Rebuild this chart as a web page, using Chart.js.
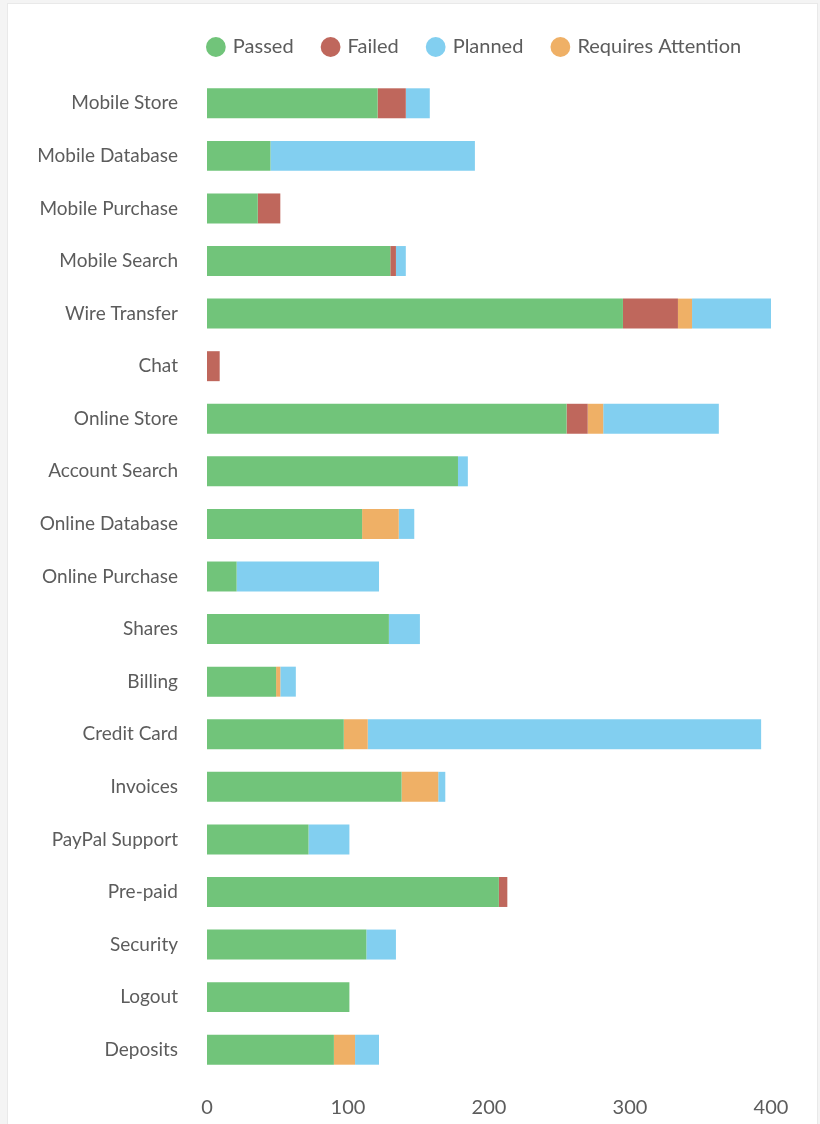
<!DOCTYPE html>
<html lang="en">
<head>
    <meta charset="UTF-8">
    <title>Test Status by Feature</title>
    <script src="https://cdn.jsdelivr.net/npm/chart.js"></script>
    <style>
        body { margin: 0; background: #f4f4f4; overflow: hidden; }
        .card {
            position: absolute; left: 7px; top: 3px;
            width: 809px; height: 1150px;
            background: #fff; border: 1px solid #e9e9e9;
        }
    </style>
</head>
<body>
    <div class="card">
        <canvas id="statusChart" width="809" height="1140"></canvas>
    </div>

    <script>
        // Features and test counts per status
        const features = ['Mobile Store', 'Mobile Database', 'Mobile Purchase', 'Mobile Search', 'Wire Transfer',
            'Chat', 'Online Store', 'Account Search', 'Online Database', 'Online Purchase', 'Shares', 'Billing',
            'Credit Card', 'Invoices', 'PayPal Support', 'Pre-paid', 'Security', 'Logout', 'Deposits'];
        const passed    = [121, 45, 36, 130, 295, 0, 255, 178, 110, 21, 129, 49, 97, 138, 72, 207, 113, 101, 90];
        const failed    = [20, 0, 16, 4, 39, 9, 15, 0, 0, 0, 0, 0, 0, 0, 0, 6, 0, 0, 0];
        const planned   = [17, 145, 0, 7, 56, 0, 82, 7, 11, 101, 22, 11, 279, 5, 29, 0, 21, 0, 17];
        const attention = [0, 0, 0, 0, 10, 0, 11, 0, 26, 0, 0, 3, 17, 26, 0, 0, 0, 0, 15];
        const xTicks = [0, 100, 200, 300, 400];

        const textColor = '#5c5c5c';
        const font = { family: 'Lato', size: 19 };

        // a bit more room under the legend, and center it over the bars (slightly left)
        const legendSpacing = {
            id: 'legendSpacing',
            beforeInit(chart) {
                const legend = chart.legend;
                if (!legend) return;
                const fit = legend.fit;
                legend.fit = function () { fit.call(this); this.height += 10; };
            },
            afterLayout(chart) {
                const legend = chart.legend;
                const area = chart.chartArea;
                const shift = (area.left + area.right) / 2 - 14 - (legend.left + legend.right) / 2;
                legend.left += shift;
                legend.right += shift;
            }
        };

        new Chart(document.getElementById('statusChart'), {
            type: 'bar',
            data: {
                labels: features,
                datasets: [
                    { label: 'Passed', data: passed, backgroundColor: '#71c47a', order: 0 },
                    { label: 'Failed', data: failed, backgroundColor: '#bf675c', order: 0 },
                    // planned goes last in the stack but third in the legend
                    { label: 'Planned', data: planned, backgroundColor: '#82cff0', order: 1 },
                    { label: 'Requires Attention', data: attention, backgroundColor: '#efb066', order: 0 }
                ]
            },
            plugins: [legendSpacing],
            options: {
                indexAxis: 'y',
                responsive: false,
                animation: false,
                layout: { padding: { top: 3, right: 46, bottom: 4 } },
                datasets: { bar: { barPercentage: 0.57, categoryPercentage: 1 } },
                plugins: {
                    legend: {
                        labels: {
                            usePointStyle: true, pointStyle: 'circle',
                            boxWidth: 14, boxHeight: 14, padding: 30,
                            color: textColor, font: { family: 'Lato', size: 20 },
                            sort: (a, b) => a.datasetIndex - b.datasetIndex
                        }
                    },
                    tooltip: { enabled: false }
                },
                scales: {
                    x: {
                        stacked: true, min: 0, max: 400,
                        afterBuildTicks: (scale) => { scale.ticks = xTicks.map(v => ({ value: v })); },
                        grid: { display: false, drawTicks: false },
                        border: { display: false },
                        ticks: { color: textColor, font: { family: 'Lato', size: 20 }, padding: 20 }
                    },
                    y: {
                        stacked: true,
                        afterFit: (scale) => { scale.width = 199; },
                        grid: { display: false, drawTicks: false },
                        border: { display: false },
                        ticks: { color: textColor, font: font, padding: 29 }
                    }
                }
            }
        });
    </script>
</body>
</html>
